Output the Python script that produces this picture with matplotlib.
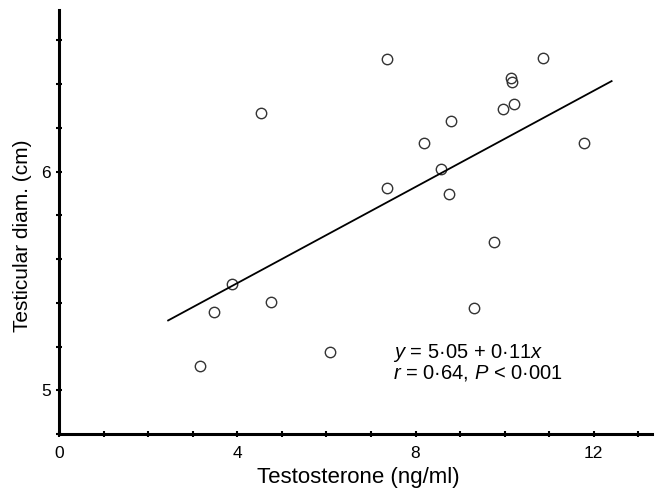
import numpy as np
import matplotlib
matplotlib.use('Agg')
import matplotlib.pyplot as plt
from matplotlib.ticker import MultipleLocator

plt.rcParams['font.family'] = ['Liberation Sans', 'DejaVu Sans']
plt.rcParams['mathtext.fontset'] = 'custom'
plt.rcParams['mathtext.rm'] = 'Liberation Sans'
plt.rcParams['mathtext.it'] = 'Liberation Sans:italic'

# data
testosterone = [7.37, 4.53, 10.85, 10.15, 10.17, 10.2, 9.96, 8.79, 8.19, 11.78,
                8.57, 7.37, 8.75, 9.77, 3.89, 3.48, 4.75, 9.32, 6.09, 3.17]
diameter = [6.515, 6.27, 6.52, 6.43, 6.41, 6.31, 6.287, 6.232, 6.133, 6.133,
            6.011, 5.927, 5.896, 5.68, 5.488, 5.357, 5.403, 5.377, 5.177, 5.109]
intercept = 5.05
slope = 0.11
fit_range = [2.45, 12.4]

fig = plt.figure(figsize=(6.55, 4.91), dpi=100)
ax = fig.add_axes([0.090, 0.116, 0.905, 0.864])

ax.plot(testosterone, diameter, 'o', mfc='none', mec='#333333', ms=7.5, mew=1.0)
xf = np.array(fit_range)
ax.plot(xf, intercept + slope * xf, color='black', lw=1.3)

ax.set_xlim(0, 13.3)
ax.set_ylim(4.8, 6.74)
ax.set_xticks([0, 4, 8, 12])
ax.set_yticks([5, 6])
ax.xaxis.set_minor_locator(MultipleLocator(1))
ax.yaxis.set_minor_locator(MultipleLocator(0.2))
ax.tick_params(which='both', direction='inout', width=1.5, colors='black', labelsize=12.5)
ax.tick_params(which='major', length=5)
ax.tick_params(which='minor', length=4)
ax.tick_params(axis='x', pad=6)

for side in ['top', 'right']:
    ax.spines[side].set_visible(False)
for side in ['left', 'bottom']:
    ax.spines[side].set_linewidth(2.2)

ax.set_xlabel('Testosterone (ng/ml)', fontsize=16)
ax.set_ylabel('Testicular diam. (cm)', fontsize=15)
ax.xaxis.set_label_coords(0.505, -0.078)
ax.yaxis.set_label_coords(-0.045, 0.467)

ax.text(7.5, 5.22, '$y$ = 5·05 + 0·11$x$\n$r$ = 0·64, $P$ < 0·001', fontsize=14.5,
        va='top', ha='left', linespacing=0.95)

fig.savefig('out.png', dpi=100)
